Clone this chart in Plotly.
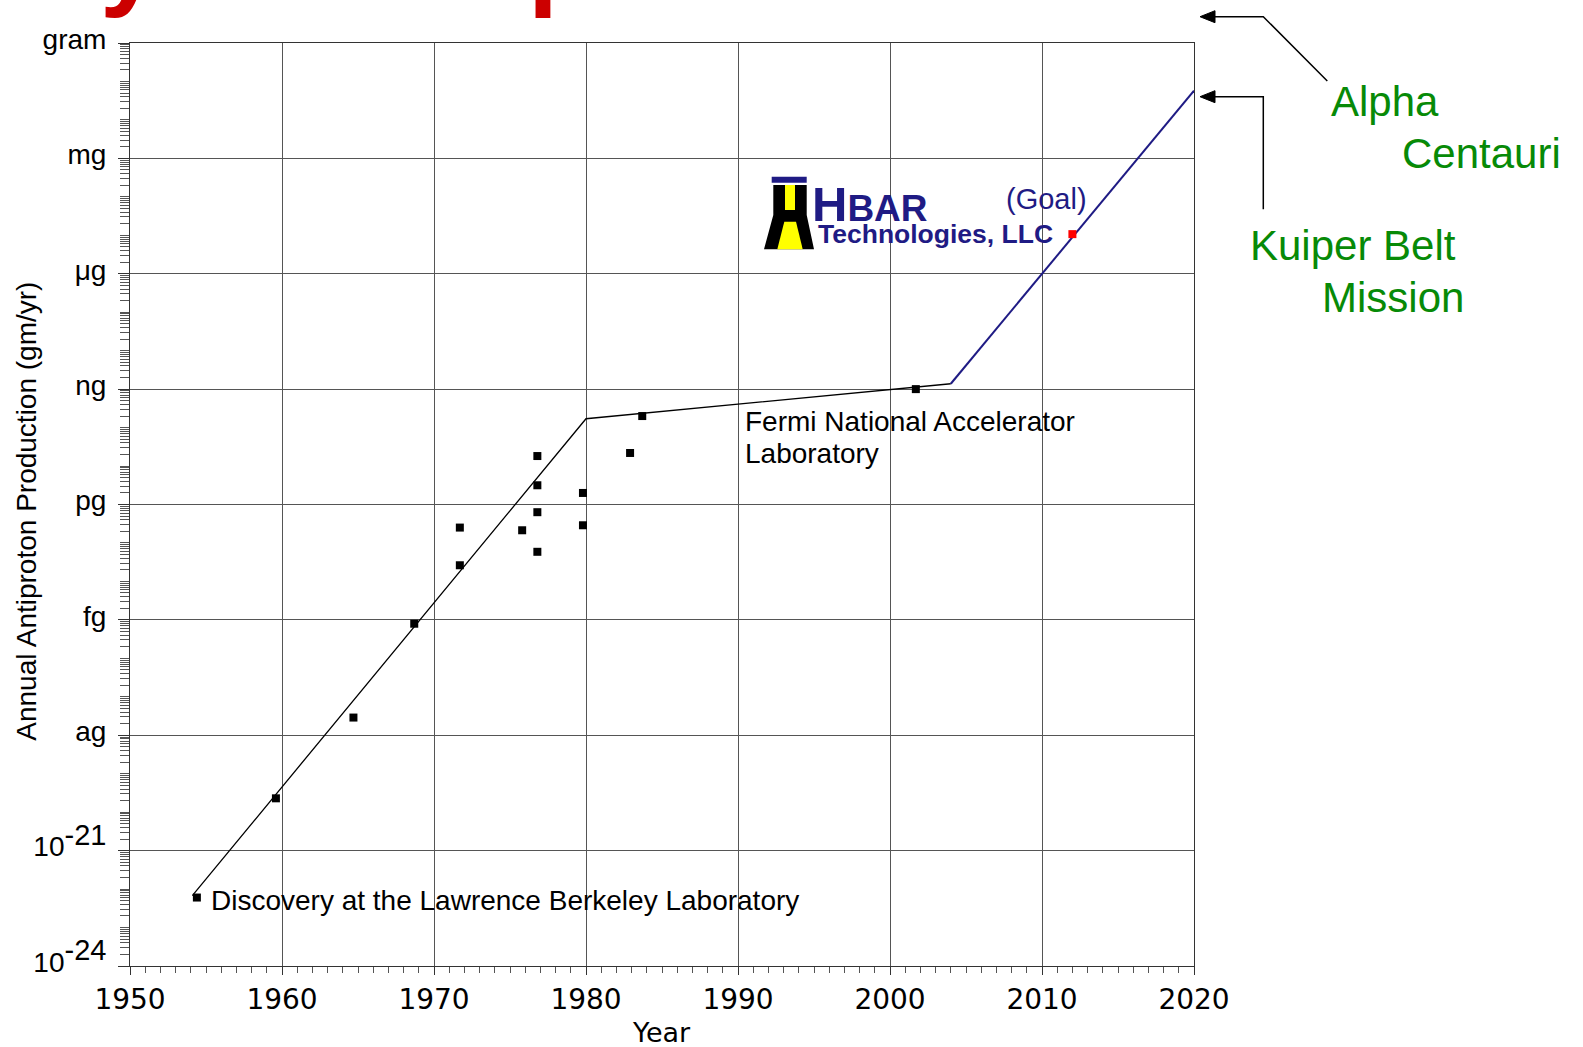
import plotly.graph_objects as go

# ---------------- data ----------------
trend_years = [1954.1, 1980.0, 2004.0]
trend_log10 = [-22.17, -9.77, -8.86]

goal_years = [2004.0, 2020.0]
goal_log10 = [-8.86, -1.24]

meas_years = [1954.4, 1959.6, 1964.7, 1968.7, 1971.7, 1971.7, 1975.8, 1976.8,
              1976.8, 1976.8, 1976.8, 1979.8, 1979.8, 1982.9, 1983.7, 2001.7]
meas_log10 = [-22.22, -19.64, -17.54, -15.10, -12.60, -13.58, -12.67, -10.74,
              -11.50, -12.20, -13.23, -11.70, -12.54, -10.66, -9.70, -9.00]

goal_point_year = [2012.0]
goal_point_log10 = [-4.97]

ytick_exp = [-24, -21, -18, -15, -12, -9, -6, -3, 0]
ytick_text = ["10<sup><span style='font-size:29px'>-24</span></sup>",
              "10<sup><span style='font-size:29px'>-21</span></sup>",
              "ag", "fg", "pg", "ng", "μg", "mg", "gram"]

# ---------------- layout geometry ----------------
W, H = 1583, 1047
L, R, T, B = 130, 389, 43, 81
PW = W - L - R
PH = H - T - B


def px(x):
    return (x - L) / PW


def py(y):
    return (H - B - y) / PH


def path(points, close=False):
    s = "M " + " L ".join(f"{px(a):.5f},{py(b):.5f}" for a, b in points)
    return s + (" Z" if close else "")


FONT = "Liberation Sans, Arial, sans-serif"
NAVY = "#1f1b84"
GREEN = "#078a07"

fig = go.Figure()

fig.add_trace(go.Scatter(
    x=trend_years, y=[10 ** v for v in trend_log10], mode="lines",
    line=dict(color="black", width=1.3), hoverinfo="skip", showlegend=False))

fig.add_trace(go.Scatter(
    x=goal_years, y=[10 ** v for v in goal_log10], mode="lines",
    line=dict(color=NAVY, width=2), hoverinfo="skip", showlegend=False))

fig.add_trace(go.Scatter(
    x=meas_years, y=[10 ** v for v in meas_log10], mode="markers",
    marker=dict(symbol="square", size=8, color="black"), showlegend=False))

fig.add_trace(go.Scatter(
    x=goal_point_year, y=[10 ** v for v in goal_point_log10], mode="markers",
    marker=dict(symbol="square", size=8, color="#ff0000"), showlegend=False))

minor_y = [m * 10.0 ** k for k in range(-24, 0) for m in range(1, 10)
           if not (m == 1 and k % 3 == 0)]

fig.update_layout(
    width=W, height=H,
    margin=dict(l=L, r=R, t=T, b=B, autoexpand=False),
    paper_bgcolor="white", plot_bgcolor="white",
    font=dict(family=FONT, color="black"),
    xaxis=dict(
        range=[1950, 2020], tick0=1950, dtick=10, automargin=False,
        showgrid=True, gridcolor="#555555", gridwidth=1,
        showline=True, linecolor="#333333", linewidth=1, mirror=True,
        ticks="outside", ticklen=8, tickcolor="#333333",
        minor=dict(dtick=1, ticks="outside", ticklen=6, tickcolor="#555555", showgrid=False),
        tickfont=dict(family="DejaVu Sans", size=28, color="black"),
        ticklabelstandoff=0,
        zeroline=False,
    ),
    yaxis=dict(
        type="log", range=[-24, 0], automargin=False,
        tickmode="array", tickvals=[10.0 ** e for e in ytick_exp], ticktext=ytick_text,
        showgrid=True, gridcolor="#555555", gridwidth=1,
        showline=True, linecolor="#333333", linewidth=1, mirror=True,
        ticks="outside", ticklen=11, tickcolor="#333333",
        minor=dict(tickmode="array", tickvals=minor_y, ticks="outside", ticklen=9,
                   tickcolor="#555555", showgrid=False),
        tickfont=dict(family=FONT, size=28, color="black"),
        ticklabelstandoff=6, ticklabelshift=-4,
        zeroline=False,
    ),
)

ann = []


def text(t, x, yc, size, color="black", weight="normal", anchor="left", angle=0, family=FONT):
    ann.append(dict(text=t, x=px(x), y=py(yc), xref="paper", yref="paper",
                    xanchor=anchor, yanchor="middle", showarrow=False, borderpad=0,
                    textangle=angle,
                    font=dict(family=family, size=size, color=color, weight=weight)))


# slide title (cut off by the top edge)
text("History of Antiproton Production", -213, -41.5, 108, color="#cc0000", weight="bold")

# axis titles
text("Annual Antiproton Production (gm/yr)", 27, 511.7, 28, anchor="center", angle=-90)
text("Year", 661, 1032.5, 27, anchor="center", family="DejaVu Sans")

# chart notes
text("Fermi National Accelerator", 744, 421.0, 28)
text("Laboratory", 744, 453.5, 28)
text("Discovery at the Lawrence Berkeley Laboratory", 210, 900.0, 28)

# missions
text("Alpha", 1330, 101.5, 42, color=GREEN)
text("Centauri", 1401, 153.5, 42, color=GREEN)
text("Kuiper Belt", 1249, 245.0, 42, color=GREEN)
text("Mission", 1321, 297.0, 42, color=GREEN)

# logo text
text("<span style='font-size:49px'>H</span>BAR", 811, 204.5, 37, color=NAVY, weight="bold")
text("Technologies, LLC", 817, 234.5, 26.5, color=NAVY, weight="bold")
text("(Goal)", 1005, 199.0, 29, color=NAVY)

shapes = []
# arrows
shapes.append(dict(type="path", xref="paper", yref="paper",
                   path=path([(1213, 16.7), (1263.3, 16.7), (1327.3, 81)]),
                   line=dict(color="black", width=1.5)))
shapes.append(dict(type="path", xref="paper", yref="paper",
                   path=path([(1200, 16.7), (1215, 10.7), (1215, 22.7)], close=True),
                   fillcolor="black", line=dict(color="black", width=1)))
shapes.append(dict(type="path", xref="paper", yref="paper",
                   path=path([(1213, 96.7), (1263.3, 96.7), (1263.3, 209.3)]),
                   line=dict(color="black", width=1.5)))
shapes.append(dict(type="path", xref="paper", yref="paper",
                   path=path([(1200, 96.7), (1215, 90.7), (1215, 102.7)], close=True),
                   fillcolor="black", line=dict(color="black", width=1)))

# logo icon
shapes.append(dict(type="path", xref="paper", yref="paper",
                   path=path([(771.7, 176.7), (806.7, 176.7), (806.7, 182.7), (771.7, 182.7)], close=True),
                   fillcolor=NAVY, line=dict(width=0)))
shapes.append(dict(type="path", xref="paper", yref="paper",
                   path=path([(773.3, 185), (806.7, 185), (806.7, 215), (814, 249.3),
                              (764, 249.3), (773.3, 215)], close=True),
                   fillcolor="black", line=dict(width=0)))
shapes.append(dict(type="path", xref="paper", yref="paper",
                   path=path([(785, 185), (795, 185), (795, 210), (785, 210)], close=True),
                   fillcolor="#ffff00", line=dict(width=0)))
shapes.append(dict(type="path", xref="paper", yref="paper",
                   path=path([(784.3, 221.7), (796, 221.7), (802.7, 249.3), (777.3, 249.3)], close=True),
                   fillcolor="#ffff00", line=dict(width=0)))

fig.update_layout(annotations=ann, shapes=shapes)

fig.write_html("out.html",
               config={"displayModeBar": False},
               post_script="document.body.style.margin='0px';document.body.style.overflow='hidden';")
